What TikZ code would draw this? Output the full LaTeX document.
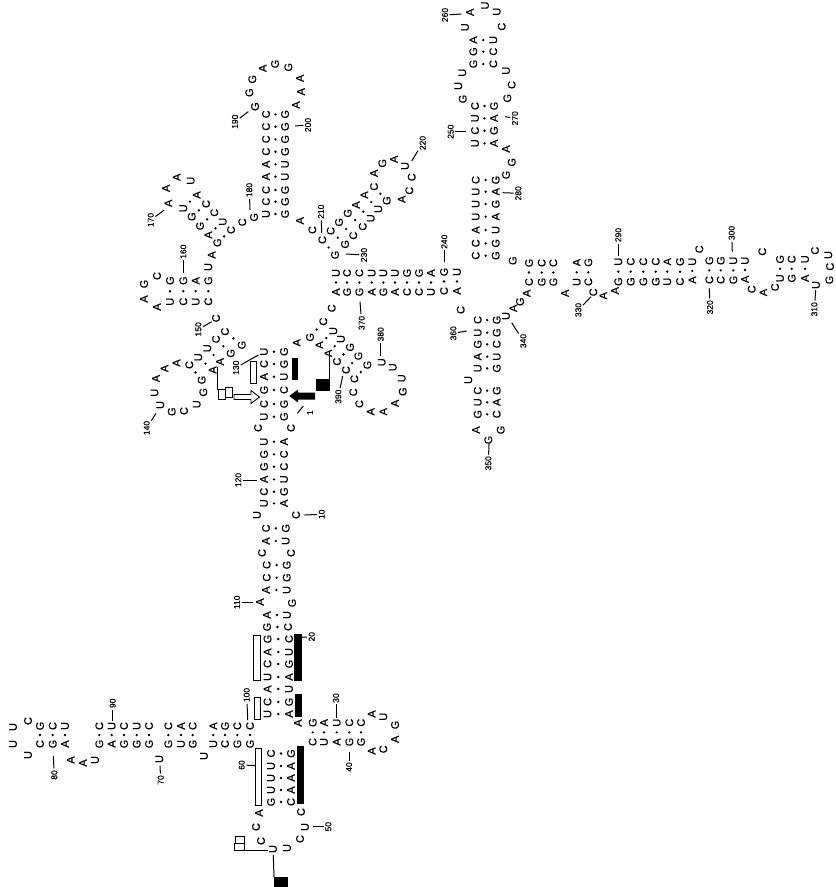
\documentclass[tikz,border=0pt]{standalone}
\usepackage{fontspec}
\setmainfont{Liberation Sans}
\newfontfamily\ntfont[FakeBold=0.4]{Liberation Sans}
\usepackage{tikz}
\usetikzlibrary{calc}
\begin{document}
\begin{tikzpicture}[x=1pt, y=-1pt,
    nt/.style={rotate=90, inner sep=0pt, font=\ntfont\fontsize{11}{11}\selectfont},
    bp/.style={circle, fill=black, inner sep=0pt, minimum size=2.6pt},
    num/.style={rotate=90, inner sep=1.5pt, font=\ntfont\fontsize{8.5}{8.5}\selectfont},
    tick/.style={line width=1pt},
    openbar/.style={draw=black, line width=0.8pt, fill=white},
    solidbar/.style={fill=black}]
\useasboundingbox (0,0) rectangle (836,887);
% paired bases: x/y/base of one strand, x/y/base of the other; the dot sits midway
\foreach \xa/\ya/\na/\xb/\yb/\nb [count=\i] in {
    % left arm 60-100
    271/753.5/C/291/753.5/G, 271/766/U/291/766/A, 271/778/U/291/778/A, 271/790/U/291/790/A, 271/802/G/291/802/C,
    267.5/714/U/289/714/A, 267.5/702/C/289/702/G, 267.5/689/A/289/689/U,
    267.5/677/U/289/677/A, 267.5/664/C/289/664/G, 267.5/652/A/289/652/U, 267.5/639/G/289/639/C, 267/627/G/288/627/C, 267/615/A/287/615/U,
    % 60-100 hairpin
    250/744/G/250/726/C, 237.3/744/G/237.3/726/C, 225/744/C/225/726/G, 213.3/744/U/213.3/726/A,
    192.7/744/G/192.7/726/C, 181/744/U/181/726/A, 168.3/744/G/168.3/726/C,
    149/744/G/149/726/C, 136.7/744/G/136.7/726/U, 124/744/G/124/726/C, 111.7/744/A/111.7/726/U, 99.3/744/G/99.3/726/C,
    65/744/A/65/726/U, 52.7/744/G/52.7/726/C, 40/744/C/40/726/G,
    % 30-40 hairpin
    312.7/742/C/312.7/722.7/G, 324/742/U/324/722.7/A, 336.7/742/A/336.7/722.7/U, 349.3/742/G/349.3/722.7/C, 361/742/G/361/722.7/C,
    % central stem
    266/590/A/286.7/590/U, 266.7/577.7/C/286.7/577.7/G, 266.7/565/C/286.7/565/G,
    266/541/A/285.7/541/U, 266/528.3/C/285.7/528.3/G,
    264/503.3/U/284/503.3/A, 264/491.7/C/284/491.7/G, 264/479.3/A/284/479.3/U, 264/466.7/G/284/466.7/C, 264/454.3/G/284/454.3/C, 264/441.7/U/284/441.7/A,
    264/416.7/U/284/416.7/G, 264/404/C/284/404/G, 264/390/G/284/390/C, 264/376.7/A/284/376.7/U, 264/364/C/284/364/G, 264/351.7/U/284/351.7/G,
    % 140-150 arm
    225/331.7/C/241.7/345/G, 216/339.3/C/230.7/353.3/G, 207.3/348.3/U/220/361.7/A, 198.3/357.3/U/212.7/370/A, 189.3/365/C/201.7/380/G,
    % 160 arm
    170/301.7/U/170/280.7/G, 183.3/301.7/C/183.3/280.7/G, 195.7/301.7/U/195.7/280.7/A, 208.3/301.7/C/208.3/280.7/G,
    217.3/242.7/G/231/230/C, 208.3/235/A/222.7/221.7/U, 200/226/G/214.3/212.7/C, 191.7/216.7/G/206/204/C, 183.3/208.3/U/196.7/195/A,
    % 190-200 hairpin
    266/214/U/285/214/G, 266/201.7/C/285/201.7/G, 266/190/C/285/190/G, 266/176.7/A/285/176.7/U, 266/164.3/A/285/164.3/U,
    266/151.7/C/285/151.7/G, 266/139.3/C/285/139.3/G, 266/126.7/C/285/126.7/G, 266/114.3/C/285/114.3/G,
    % 210-230 arm
    322.3/240/C/335/255/G, 330.7/231/C/345/244.3/G, 339/222.3/G/353.3/235.7/C, 347.7/213.3/G/362.7/226.7/C,
    356/205/A/370.7/218.3/U, 364.3/195/A/378.3/209/U, 374/186.7/C/386.7/200.7/G,
    % 230-240 stem
    336/292/A/336/273/U, 347/292/G/347/273/C, 359.3/292/G/359.3/273/C, 371.7/292/A/371.7/273/U, 383.3/292/G/383.3/273/U, 395/292/A/395/273/U,
    407/292/C/407/273/G, 419/292/C/419/273/G, 431/292/U/431/273/A, 444/291/C/444/272/G, 457/291/A/457/272/U,
    % 250-280 arm
    475.7/255.7/C/495.7/255.7/G, 475.7/243.3/C/495.7/243.3/G, 475.7/230/A/495.7/230/U, 475.7/216.7/U/495.7/216.7/A, 475.7/204/U/495.7/204/G, 475.7/191.7/U/495.7/191.7/A, 475.7/180/C/495.7/180/G,
    475/143.3/U/494/143.3/A, 475/130.7/C/494/130.7/G, 475/118.3/U/494/118.3/A, 475/106/C/494/106/G,
    473.3/64/G/493.3/64/C, 473.3/51.7/G/493.3/51.7/C, 473.3/40/A/493.3/40/U,
    % 290-340 arm
    529/282/C/529/263/G, 541.7/282/G/541.7/263/C, 553.3/282/G/553.3/263/C, 576.7/282/U/576.7/262.5/A, 588.3/282/C/588.3/262.5/G,
    618.3/281.7/G/618.3/261.7/U, 630.7/281.7/G/630.7/261.7/C, 643.3/281.7/G/643.3/261.7/C, 655.7/281.7/G/655.7/261.7/C, 667.3/281.7/U/667.3/261.7/A, 680/281.7/C/680/261.7/G, 692.3/280/A/692.3/261.7/U,
    709.3/280/C/709.3/260.7/G, 720.7/280/C/720.7/260.7/G, 733.3/280/G/733.3/260.7/U, 745/279.3/A/745/260.7/U,
    780/278.3/U/780/259.3/G, 791.7/278.3/G/791.7/259.3/C, 805/278.3/A/805/259.3/U,
    % 340-360 arm
    477.7/320/C/496.7/320/G, 477.7/332.7/U/496.7/332.7/G, 477.7/344.3/G/496.7/344.3/C, 477.7/356.7/A/496.7/356.7/U, 477.7/368.3/U/496.7/368.3/G,
    477.7/390.7/C/496.7/390.7/G, 477.7/402.3/U/496.7/402.3/A, 477.7/414.3/G/496.7/414.3/C,
    % 370-390 arm
    310/337.3/G/323.3/321.7/C, 319.3/345/A/333.3/331/U, 328.3/353.3/A/341/339/U, 337/361.7/C/350/347.3/G, 346/370/C/358.3/356/G, 354.3/379/C/367.3/365/G}
{
    \node[nt] (p\i-a) at (\xa,\ya) {\na};
    \node[nt] (p\i-b) at (\xb,\yb) {\nb};
    \node[bp] (d\i) at ($(p\i-a)!.5!(p\i-b)$) {};
}
% unpaired bases
\foreach \x/\y/\n [count=\i] in {
    259/813/A, 256/827/C, 261/841/C, 273/849/U, 287/848/U, 300/839/C, 305/827/U, 301/812/C,
    298/723/A, 204/756/U, 159.3/759/U, 95/760/U, 83/763/A, 70.7/760/A, 28/755/U, 13/744/U, 13/727/U, 28/721/C,
    371.7/714/A, 383.3/716.7/U, 395/725/G, 395/739.3/A, 383.3/749.3/C, 371.7/751/A,
    292/603/G, 260/602/A, 262/553/C, 291/553/C, 257/515/U, 296/515/C, 258/428/C, 291/428/C,
    216/318.3/C, 203.3/392.3/G, 196.7/404.3/U, 184/411/C, 171.7/411.7/G, 160.3/405/U, 154.5/392.7/U, 156/378.5/A, 164.5/368.5/A, 176.5/363/A,
    157/307/A, 144/299/A, 144/284/G, 157/276/C, 208.3/267/U, 211.7/255/A,
    190.7/180.7/U, 176.7/177.3/A, 166/188.3/A, 168.3/203.3/A, 242.3/222.3/C, 254/217.3/G,
    255/106.7/G, 249.3/92.7/G, 252.3/79.3/G, 262.7/68.3/A, 275/64/G, 288.3/67.3/G, 300/78.3/A, 301/91.7/A, 296/105/A,
    300/220.7/A, 312.3/230/C,
    374/173.3/A, 382.3/163.3/G, 394/159.3/A, 405/166/U, 411.7/177.3/C, 409.3/190.7/C, 401.7/199.3/A,
    462.7/99/G, 458.3/86/U, 462.3/72.7/U, 465/27.3/U, 470/12.3/A, 485/5.5/U, 496.7/11.7/U, 501.7/26.7/C,
    506/70.7/U, 511.7/85/C, 507.3/98.3/G, 506/149/A, 511.7/162.3/G, 506/175/G, 512.7/260.7/G,
    526.7/293.3/A, 520/301.7/G, 513.3/308.3/A, 506/316/U,
    565/293.3/A, 593.3/292.3/C, 603.3/295.7/A, 615/290.7/A, 699.3/249.3/C, 762.3/251.7/C,
    751.7/289.3/C, 763.3/292.5/A, 775/287.3/C, 815/250.7/C, 828.3/255/U, 830/266.7/C, 829.3/280/G, 816/285/U,
    460.7/310/C, 468.3/380/U, 476/430/A, 488.3/440/G, 500.7/430/G,
    296.7/342.7/A, 331.7/308.3/C, 381.7/362.3/U, 392.7/367.3/U, 401.7/378.3/U, 402.7/391.7/G, 395/403.3/A, 383.3/411.7/A, 370.7/411.7/A, 359.3/404/C, 353.3/392.3/C}
{
    \node[nt] (u\i) at (\x,\y) {\n};
}
% position numbers with their ticks
\foreach \lab/\x/\y/\tx/\ty in {
    10/321.7/514.3/304.3/515, 20/311.7/636.7/301.7/637.3, 30/336/698/336/718, 40/349/767/349/751.7, 50/328.3/826.7/313.3/826.7,
    60/241.7/765/260/765.7, 70/160.7/780/160/765.7, 80/54.3/775/53.3/756, 90/112.7/703.3/112.7/720.7, 100/246.7/695/247.7/720,
    110/237/602.3/253.3/602.3, 120/238.3/480/257.3/480, 130/236/367.7/258.3/355, 140/146.7/428/156/413.3, 150/198.3/329.3/211.7/321.7,
    160/183.3/251.7/183.3/272.7, 170/150.7/220/164.3/210, 180/249.3/190/250/210, 190/235/121.7/248.3/111.7, 200/308/125/295/126,
    210/321/211.7/321.7/233, 220/422.7/143/411.7/161, 230/364/255/346/254, 240/444.3/241.7/444.3/262.3, 250/450.7/131.7/466/131.7,
    260/445/15/461.7/14, 270/515/118.3/505/116.7, 280/518.3/193.3/502.7/192.7, 290/618.3/235/618.3/256, 300/731.7/233/732.3/251.7,
    310/814.3/309.3/815.7/290, 320/710/307.3/709.3/288.3, 330/578.3/310/591/296.7, 340/523.3/341/511.7/322.7, 350/488.3/463.3/489/444,
    360/453.3/333.3/466.7/331, 370/361.7/323/360/301.7, 380/380.7/334.3/380.7/356, 390/338.3/396.7/342.7/376}
{
    \node[num] (n\lab) at (\x,\y) {\lab};
    \coordinate (t\lab) at (\tx,\ty);
    \draw[tick] (n\lab) -- (t\lab);
}
% start mark
\node[num] (n1) at (310,412.7) {1};
\coordinate (s1) at (303.3,406);
\coordinate (s2) at (297.3,413.3);
\draw[tick] (s1) -- (s2);
% open bars
\foreach \xa/\ya/\xb/\yb in {253.3/635/260/680.7, 254.3/697.3/260.7/719, 255/748.3/261.7/805.7, 250/361.7/256.7/383.3,
    235/836/244.3/843.5, 234.3/843.5/244.3/850.7, 218.3/389.3/225/399.3, 225/387.3/232.3/397.3}
    \draw[openbar] (\xa,\ya) rectangle (\xb,\yb);
% solid bars
\foreach \xa/\ya/\xb/\yb in {294.3/634.3/301.7/681, 295/694/302.3/716.7, 296.7/746/304/804.3, 291.7/358.3/298.3/380,
    316/379.3/330/390.7, 274/876.5/288/887}
    \fill[solidbar] (\xa,\ya) rectangle (\xb,\yb);
% leader lines to the boxes
\draw[tick] (244.3,850) -- (268.3,850);
\draw[tick] (273.3,855) -- (274,877);
\draw[tick] (217.7,366.7) -- (217.7,390);
\draw[tick] (329,353.3) -- (329,380);
% arrows
\draw[openbar, line width=0.9pt] (234,394.5) -- (251,394.5) -- (251,390.5) -- (259.5,397) -- (251,403.5) -- (251,399.5) -- (234,399.5) -- cycle;
\fill[black] (315,392.5) -- (298,392.5) -- (298,389.5) -- (289.3,396) -- (298,402.5) -- (298,399.5) -- (315,399.5) -- cycle;
\end{tikzpicture}
\end{document}
